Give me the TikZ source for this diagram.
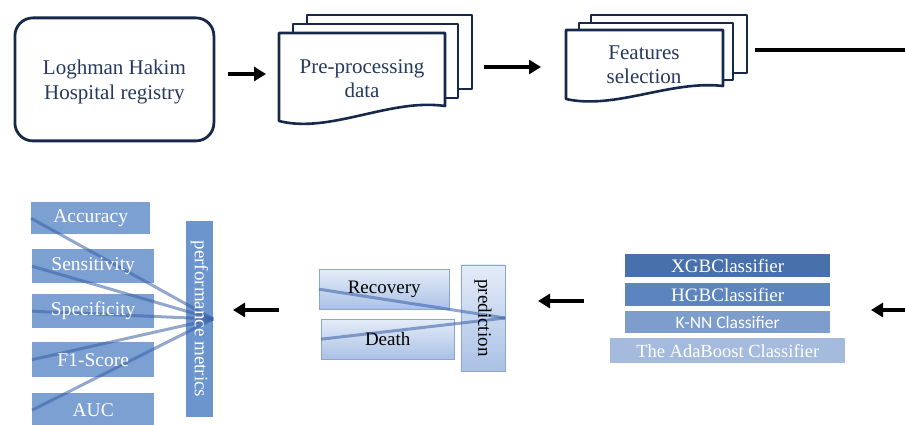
\documentclass[tikz,border=0pt]{standalone}
\usepackage{fontspec}
\setmainfont{Liberation Serif}
\newfontfamily\knnfont{Carlito}
\usetikzlibrary{arrows.meta}
\pgfdeclarelayer{background}
\pgfdeclarelayer{linklayer}
\pgfsetlayers{background,linklayer,main}
\definecolor{navy}{RGB}{23,41,74}
\definecolor{navytext}{RGB}{38,56,92}
\definecolor{metricblue}{RGB}{125,160,210}
\definecolor{perfblue}{RGB}{108,148,205}
\definecolor{linkblue}{RGB}{55,95,165}
\definecolor{xgbc}{RGB}{72,112,170}
\definecolor{hgbc}{RGB}{92,133,191}
\definecolor{knnc}{RGB}{125,157,205}
\definecolor{adac}{RGB}{165,187,221}
\definecolor{gradtop}{RGB}{228,236,248}
\definecolor{gradbot}{RGB}{170,193,229}
\definecolor{gradline}{RGB}{140,166,210}
\tikzset{
  docline/.style={draw=navy, line width=2.6pt, line join=round, fill=white},
  toptext/.style={text=navytext, font=\fontsize{21}{24}\selectfont, align=center},
  flowarrow/.style={line width=3.8pt, -{Triangle[length=12pt,width=14pt]}},
  metricbox/.style={text=white, font=\fontsize{19.5}{22}\selectfont, inner sep=0pt, anchor=north west},
  clsbox/.style={text=white, inner sep=0pt, anchor=north west, font=\fontsize{19}{22}\selectfont},
  outbox/.style={text=black, font=\fontsize{19}{22}\selectfont, inner sep=0pt, anchor=north west},
  outfill/.style={draw=gradline, line width=0.6pt, top color=gradtop, bottom color=gradbot},
  link/.style={draw=linkblue, line width=3pt, opacity=0.55},
}
\begin{document}
\begin{tikzpicture}[x=1pt,y=-1pt]
\useasboundingbox (0,0) rectangle (905,425);

% ---- top row ----
\node[draw=navy, line width=2.8pt, rounded corners=18pt, minimum width=199pt, minimum height=123pt, anchor=north west, toptext, font=\fontsize{21}{25}\selectfont, text depth=-4pt] (reg) at (13.5,16.5) {Loghman Hakim\\Hospital registry};

% pre-processing multi-document
\draw[docline] (307,15) rectangle (472,89);
\draw[docline] (293,24) rectangle (458,98);
\draw[docline] (279,33) -- (445,33) -- (445,106) .. controls (390,98) and (330,134) .. (279,121) -- cycle;
\node[toptext] (pre) at (362,79) {Pre-processing\\data};

% features multi-document
\draw[docline] (591,15) rectangle (747,73);
\draw[docline] (579,23) rectangle (733,80);
\draw[docline] (566,30) -- (723,30) -- (723,86) .. controls (670,80) and (615,110) .. (566,99) -- cycle;
\node[toptext] (feat) at (644,65) {Features\\selection};

\coordinate (a1s) at (228,74);
\coordinate (a1e) at (266,74);
\draw[flowarrow] (a1s) -- (a1e);
\coordinate (a2s) at (484,67);
\coordinate (a2e) at (541,67);
\draw[flowarrow] (a2s) -- (a2e);
\coordinate (ls) at (755,50);
\coordinate (le) at (905,50);
\draw[line width=4pt] (ls) -- (le);

% ---- classifiers ----
\node[clsbox, fill=xgbc, minimum width=205pt, minimum height=23pt] (xgb) at (625,254) {XGBClassifier};
\node[clsbox, fill=hgbc, minimum width=205pt, minimum height=23pt] (hgb) at (625,283) {HGBClassifier};
\node[clsbox, fill=knnc, minimum width=205pt, minimum height=22pt, font=\knnfont\fontsize{17.5}{20}\selectfont] (knn) at (625,311) {K-NN Classifier};
\node[clsbox, fill=adac, minimum width=235pt, minimum height=25pt, font=\fontsize{18.5}{21}\selectfont] (ada) at (610,338) {The AdaBoost Classifier};

\coordinate (a3s) at (905,310);
\coordinate (a3e) at (871,310);
\draw[flowarrow] (a3s) -- (a3e);
\coordinate (a4s) at (584,301);
\coordinate (a4e) at (538,301);
\draw[flowarrow] (a4s) -- (a4e);

% ---- prediction ----
\node[outbox, minimum width=130pt, minimum height=40pt] (rec) at (319,269) {Recovery};
\node[outbox, minimum width=133pt, minimum height=40pt] (death) at (321,319) {Death};
\node[rotate=-90, minimum width=106pt, minimum height=44pt, inner sep=0pt, font=\fontsize{19}{22}\selectfont] (pred) at (483,318) {prediction};
\begin{pgfonlayer}{background}
  \path[outfill] (rec.north west) rectangle (rec.south east);
  \path[outfill] (death.north west) rectangle (death.south east);
  \path[outfill] (pred.north west) rectangle (pred.south east);
\end{pgfonlayer}
\begin{pgfonlayer}{linklayer}
  \draw[link] (rec.west) -- (pred.north);
  \draw[link] (death.west) -- (pred.north);
\end{pgfonlayer}

\coordinate (a5s) at (279,310);
\coordinate (a5e) at (233,310);
\draw[flowarrow] (a5s) -- (a5e);

% ---- performance metrics ----
\node[text=white, rotate=-90, minimum width=196pt, minimum height=27pt, inner sep=0pt, font=\fontsize{19}{22}\selectfont] (perf) at (199.5,319) {performance metrics};
\node[metricbox, minimum width=119pt, minimum height=32pt] (acc) at (31,202) {Accuracy};
\node[metricbox, minimum width=122pt, minimum height=34pt] (sen) at (32,249) {Sensitivity};
\node[metricbox, minimum width=122pt, minimum height=34pt] (spe) at (32,294) {Specificity};
\node[metricbox, minimum width=122pt, minimum height=35pt] (f1) at (32,342) {F1-Score};
\node[metricbox, minimum width=122pt, minimum height=34pt] (auc) at (32,393) {AUC};
\begin{pgfonlayer}{background}
  \fill[perfblue] (perf.north west) rectangle (perf.south east);
  \foreach \m in {acc,sen,spe,f1,auc}{
    \fill[metricblue] (\m.north west) rectangle (\m.south east);
  }
\end{pgfonlayer}
\begin{pgfonlayer}{linklayer}
  \foreach \m in {acc,sen,spe,f1,auc}{
    \draw[link] (\m.west) -- (perf.north);
  }
\end{pgfonlayer}
\end{tikzpicture}
\end{document}
